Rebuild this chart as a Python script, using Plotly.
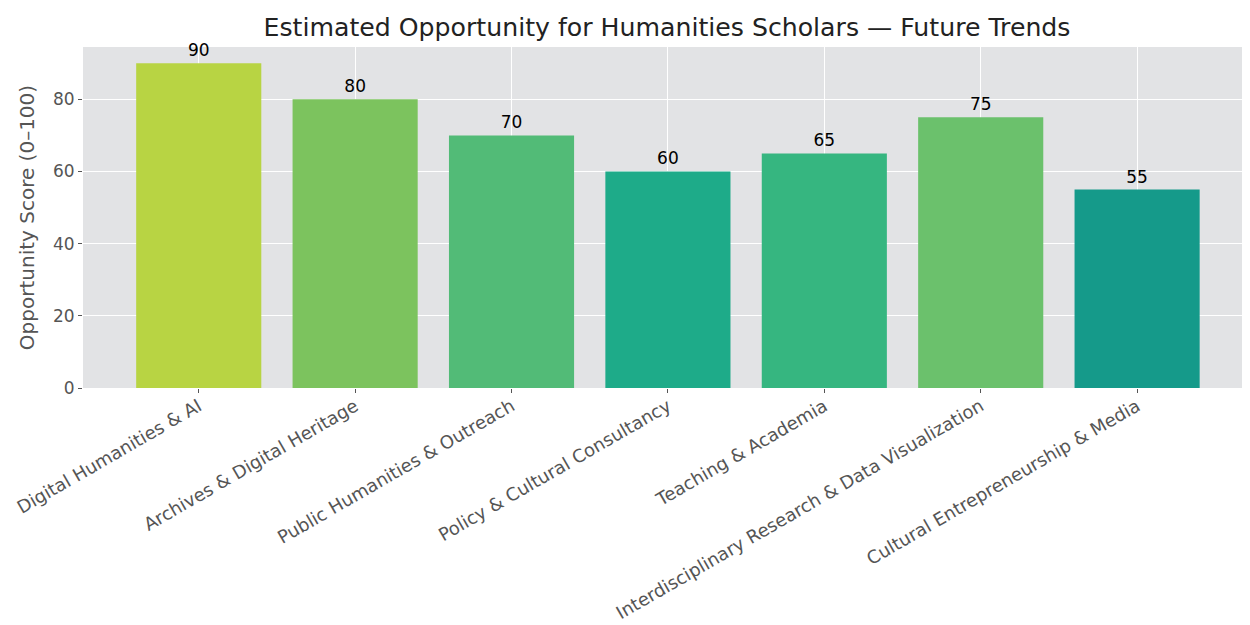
import plotly.graph_objects as go

categories = [
    "Digital Humanities & AI",
    "Archives & Digital Heritage",
    "Public Humanities & Outreach",
    "Policy & Cultural Consultancy",
    "Teaching & Academia",
    "Interdisciplinary Research & Data Visualization",
    "Cultural Entrepreneurship & Media",
]
scores = [90, 80, 70, 60, 65, 75, 55]
bar_colors = ["#b8d443", "#7cc35e", "#52bb77", "#1eab89", "#36b680", "#6bc16c", "#159a8a"]
y_ticks = [0, 20, 40, 60, 80]

fig = go.Figure(
    go.Bar(
        x=list(range(len(categories))),
        y=scores,
        width=0.8,
        marker=dict(color=bar_colors, line=dict(width=0)),
        text=[str(v) for v in scores],
        textposition="outside",
        textfont=dict(family="DejaVu Sans", size=17, color="#000000"),
        cliponaxis=False,
    )
)

fig.update_layout(
    width=1250,
    height=625,
    paper_bgcolor="#ffffff",
    plot_bgcolor="#e2e3e5",
    margin=dict(l=75, r=0, t=39, b=245, autoexpand=False),
    showlegend=False,
    font=dict(family="DejaVu Sans", color="#555555"),
    title=dict(
        text="Estimated Opportunity for Humanities Scholars — Future Trends",
        x=(667 - 8) / 1250,
        xanchor="center",
        y=1 - 19 / 625,
        yanchor="middle",
        font=dict(family="DejaVu Sans", size=25.2, color="#222222"),
    ),
    bargap=0.2,
)

fig.update_xaxes(
    range=[-0.74, 6.773],
    tickmode="array",
    tickvals=list(range(len(categories))),
    ticktext=categories,
    tickangle=-30,
    tickfont=dict(size=18, color="#555555"),
    ticks="outside",
    ticklen=4,
    tickcolor="#555555",
    ticklabelstandoff=-4,
    showgrid=True,
    gridcolor="#ffffff",
    gridwidth=1,
    zeroline=False,
    showline=False,
)
fig.update_yaxes(
    range=[0, 94.5],
    tickmode="array",
    tickvals=y_ticks,
    ticktext=[str(t) for t in y_ticks],
    tickfont=dict(size=17, color="#555555"),
    ticks="outside",
    ticklen=4,
    tickcolor="#555555",
    showgrid=True,
    gridcolor="#ffffff",
    gridwidth=1,
    zeroline=False,
    showline=False,
    title=dict(text="Opportunity Score (0–100)", font=dict(size=20, color="#555555"), standoff=12),
)

fig.write_html("out.html")
